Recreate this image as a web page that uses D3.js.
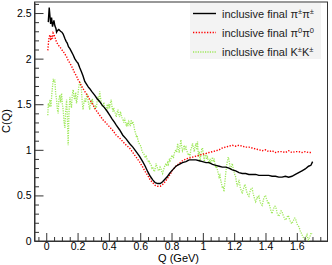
<!DOCTYPE html>
<html><head><meta charset="utf-8">
<script src="https://cdn.jsdelivr.net/npm/d3@7"></script>
<style>body{margin:0;background:#fff}svg{display:block;font-family:"Liberation Sans",Arial,sans-serif}</style>
</head><body><svg id="c" width="332" height="265"></svg>
<script>
const xTicks = [0,0.2,0.4,0.6,0.8,1,1.2,1.4,1.6];
const xTickLabels = ["0","0.2","0.4","0.6","0.8","1","1.2","1.4","1.6"];
const yTicks = [0,0.5,1,1.5,2,2.5];
const yTickLabels = ["0","0.5","1","1.5","2","2.5"];
// legend labels as [text, superscript] pieces
const seriesNames = [
  [["inclusive final \u03c0",""],["\u00b1","sup"],["\u03c0",""],["\u00b1","sup"]],
  [["inclusive final \u03c0",""],["0","sup"],["\u03c0",""],["0","sup"]],
  [["inclusive final K",""],["\u00b1","sup"],["K",""],["\u00b1","sup"]]
];

const qBlack = [0.013,0.019,0.028,0.034,0.040,0.049,0.055,0.062,0.066,0.072,0.080,0.091,0.100,0.108,0.119,0.127,0.134,0.142,0.151,0.160,0.172,0.182,0.193,0.203,0.214,0.224,0.235,0.246,0.257,0.268,0.278,0.290,0.309,0.325,0.341,0.357,0.373,0.390,0.405,0.420,0.436,0.447,0.468,0.489,0.510,0.532,0.553,0.574,0.595,0.616,0.632,0.648,0.664,0.680,0.696,0.712,0.728,0.743,0.759,0.775,0.791,0.807,0.828,0.849,0.870,0.892,0.913,0.934,0.956,0.977,0.998,1.020,1.040,1.062,1.083,1.104,1.125,1.146,1.167,1.188,1.210,1.231,1.252,1.273,1.294,1.315,1.337,1.358,1.379,1.400,1.421,1.442,1.464,1.485,1.506,1.527,1.548,1.569,1.591,1.612,1.633,1.654,1.675,1.690,1.701];
const cBlack = [2.40,2.56,2.38,2.45,2.35,2.42,2.36,2.33,2.29,2.31,2.32,2.30,2.29,2.27,2.22,2.19,2.17,2.13,2.11,2.08,2.04,2.00,1.97,1.95,1.90,1.86,1.81,1.75,1.72,1.69,1.67,1.64,1.60,1.56,1.53,1.49,1.46,1.42,1.38,1.34,1.30,1.27,1.22,1.16,1.12,1.07,1.03,0.98,0.93,0.87,0.82,0.76,0.71,0.67,0.64,0.63,0.63,0.65,0.68,0.71,0.75,0.78,0.82,0.84,0.86,0.87,0.89,0.89,0.89,0.88,0.87,0.86,0.86,0.84,0.83,0.82,0.81,0.81,0.80,0.78,0.77,0.75,0.74,0.74,0.73,0.73,0.73,0.72,0.72,0.72,0.72,0.71,0.71,0.70,0.70,0.71,0.70,0.71,0.73,0.75,0.77,0.79,0.82,0.83,0.87];

const qRed = [0.010,0.015,0.019,0.024,0.029,0.034,0.040,0.044,0.050,0.055,0.060,0.066,0.076,0.087,0.098,0.108,0.119,0.130,0.140,0.151,0.161,0.172,0.182,0.193,0.203,0.214,0.225,0.235,0.246,0.257,0.268,0.278,0.289,0.299,0.320,0.341,0.362,0.384,0.405,0.426,0.447,0.468,0.489,0.511,0.532,0.553,0.574,0.595,0.616,0.632,0.648,0.664,0.680,0.696,0.712,0.728,0.743,0.759,0.775,0.791,0.807,0.828,0.849,0.870,0.892,0.913,0.934,0.956,0.977,0.998,1.020,1.040,1.062,1.083,1.104,1.125,1.146,1.167,1.188,1.210,1.231,1.252,1.273,1.294,1.315,1.337,1.358,1.379,1.400,1.421,1.442,1.464,1.485,1.506,1.527,1.548,1.569,1.591,1.612,1.633,1.654,1.675,1.697];
const cRed = [2.09,2.19,2.24,2.26,2.20,2.25,2.22,2.28,2.26,2.24,2.21,2.18,2.15,2.13,2.10,2.08,2.05,2.02,1.98,1.95,1.92,1.88,1.84,1.81,1.77,1.74,1.70,1.67,1.64,1.61,1.58,1.55,1.52,1.49,1.43,1.38,1.33,1.29,1.25,1.21,1.16,1.13,1.09,1.05,1.02,0.97,0.92,0.87,0.81,0.76,0.72,0.67,0.64,0.61,0.60,0.60,0.62,0.65,0.69,0.73,0.78,0.82,0.85,0.88,0.90,0.91,0.92,0.93,0.94,0.95,0.96,0.97,0.98,0.99,1.00,1.02,1.03,1.04,1.05,1.04,1.05,1.04,1.03,1.03,1.02,1.01,1.00,0.99,1.00,0.98,0.99,0.97,0.98,0.98,0.97,0.99,0.97,0.98,0.98,0.97,0.98,0.97,0.97];

const qGreen = [0.010,0.013,0.019,0.024,0.030,0.035,0.040,0.045,0.050,0.055,0.060,0.066,0.071,0.076,0.081,0.087,0.092,0.098,0.103,0.108,0.114,0.119,0.124,0.130,0.135,0.140,0.145,0.151,0.156,0.161,0.166,0.172,0.177,0.182,0.188,0.193,0.198,0.203,0.209,0.214,0.219,0.224,0.230,0.235,0.240,0.246,0.251,0.257,0.262,0.268,0.273,0.278,0.283,0.289,0.294,0.299,0.304,0.310,0.315,0.320,0.326,0.331,0.336,0.341,0.346,0.352,0.357,0.362,0.368,0.373,0.378,0.384,0.389,0.394,0.400,0.405,0.410,0.415,0.420,0.426,0.431,0.436,0.442,0.447,0.452,0.458,0.463,0.468,0.474,0.479,0.484,0.489,0.495,0.500,0.506,0.511,0.516,0.521,0.527,0.532,0.537,0.543,0.548,0.553,0.559,0.564,0.569,0.575,0.580,0.585,0.590,0.596,0.601,0.606,0.611,0.617,0.622,0.627,0.632,0.638,0.643,0.648,0.654,0.659,0.664,0.670,0.675,0.680,0.685,0.691,0.696,0.701,0.706,0.712,0.717,0.722,0.727,0.733,0.738,0.743,0.749,0.754,0.759,0.765,0.770,0.775,0.780,0.786,0.791,0.796,0.801,0.807,0.812,0.817,0.822,0.828,0.833,0.839,0.844,0.849,0.854,0.860,0.865,0.870,0.876,0.881,0.886,0.892,0.897,0.902,0.908,0.913,0.918,0.923,0.929,0.934,0.940,0.945,0.950,0.956,0.961,0.966,0.972,0.977,0.982,0.988,0.993,0.998,1.004,1.009,1.014,1.020,1.025,1.030,1.035,1.040,1.046,1.051,1.056,1.062,1.067,1.072,1.078,1.083,1.088,1.093,1.099,1.104,1.109,1.114,1.120,1.125,1.130,1.135,1.141,1.146,1.151,1.156,1.162,1.167,1.172,1.177,1.183,1.188,1.193,1.199,1.204,1.210,1.215,1.220,1.225,1.231,1.236,1.241,1.247,1.252,1.257,1.263,1.268,1.273,1.278,1.284,1.289,1.294,1.299,1.305,1.310,1.315,1.320,1.326,1.331,1.337,1.342,1.347,1.352,1.358,1.363,1.368,1.374,1.379,1.384,1.389,1.395,1.400,1.405,1.411,1.416,1.421,1.426,1.432,1.437,1.442,1.447,1.453,1.458,1.464,1.469,1.474,1.479,1.485,1.490,1.495,1.500,1.506,1.511,1.516,1.521,1.527,1.532,1.537,1.543,1.548,1.553,1.558,1.564,1.569,1.574,1.580,1.585,1.591,1.596,1.601,1.606,1.612,1.617,1.622,1.628,1.633,1.638,1.644,1.649,1.654,1.660,1.665,1.670,1.675,1.681,1.686,1.691,1.697];
const cGreen = [1.38,1.51,1.47,1.55,1.47,1.60,1.69,1.78,1.74,1.77,1.62,1.55,1.44,1.40,1.55,1.60,1.52,1.62,1.50,1.44,1.30,1.24,1.42,1.55,1.35,1.05,1.40,1.58,1.51,1.46,1.60,1.66,1.58,1.55,1.63,1.51,1.56,1.62,1.70,1.75,1.72,1.67,1.52,1.44,1.51,1.56,1.52,1.58,1.62,1.53,1.48,1.44,1.55,1.50,1.56,1.51,1.47,1.44,1.49,1.46,1.55,1.58,1.52,1.64,1.58,1.51,1.48,1.47,1.52,1.46,1.44,1.44,1.50,1.46,1.49,1.47,1.52,1.55,1.47,1.42,1.46,1.41,1.40,1.36,1.41,1.44,1.39,1.36,1.42,1.38,1.35,1.33,1.30,1.35,1.29,1.27,1.30,1.26,1.31,1.29,1.26,1.33,1.28,1.31,1.27,1.22,1.19,1.15,1.16,1.11,1.08,1.06,1.05,1.03,0.99,0.97,0.96,0.94,0.92,0.93,0.90,0.89,0.86,0.87,0.84,0.83,0.80,0.81,0.78,0.76,0.80,0.85,0.82,0.79,0.77,0.78,0.81,0.79,0.76,0.74,0.78,0.81,0.83,0.85,0.82,0.86,0.84,0.89,0.87,0.90,0.93,0.94,0.91,0.96,0.98,1.00,0.97,1.07,1.01,0.97,1.04,1.11,1.03,0.99,1.02,1.05,1.01,1.03,0.99,0.97,0.94,0.96,0.92,1.00,1.03,1.07,1.02,0.98,1.03,1.07,1.00,1.09,0.92,0.98,0.87,0.95,1.01,1.02,0.94,0.87,0.93,0.96,0.90,0.92,0.88,0.85,0.90,0.85,0.88,0.92,0.87,0.89,0.84,0.80,0.82,0.78,0.74,0.70,0.72,0.67,0.62,0.58,0.60,0.54,0.65,0.74,0.82,0.87,0.92,0.89,0.83,0.78,0.82,0.85,0.80,0.76,0.73,0.70,0.64,0.60,0.63,0.67,0.62,0.57,0.55,0.52,0.56,0.59,0.62,0.60,0.55,0.52,0.50,0.49,0.53,0.56,0.58,0.58,0.53,0.49,0.46,0.43,0.45,0.48,0.47,0.49,0.45,0.42,0.40,0.39,0.43,0.47,0.49,0.50,0.47,0.44,0.42,0.43,0.39,0.35,0.32,0.30,0.33,0.36,0.38,0.38,0.35,0.31,0.29,0.27,0.29,0.31,0.33,0.32,0.29,0.27,0.25,0.23,0.24,0.26,0.28,0.27,0.24,0.22,0.20,0.19,0.21,0.23,0.25,0.25,0.22,0.19,0.17,0.16,0.14,0.11,0.09,0.07,0.05,0.03,0.02,0.01,0.05,0.07,0.03,0.01,0.04,0.06,0.09,0.08];

const svg = d3.select("#c");
const L = 34.5, R = 327.5, T = 2, B = 241;
const x = d3.scaleLinear().domain([-0.075, 1.796]).range([L, R]);
const y = d3.scaleLinear().domain([0, 2.621]).range([B, T]);
const axisCol = "#333";

svg.append("rect").attr("x", L).attr("y", T).attr("width", R - L).attr("height", B - T)
  .attr("fill", "none").attr("stroke", axisCol).attr("stroke-width", 1);

svg.append("clipPath").attr("id", "clip").append("rect")
  .attr("x", L).attr("y", T).attr("width", R - L).attr("height", B - T);

// legend background
svg.append("rect").attr("x", 190).attr("y", 3).attr("width", 131).attr("height", 56).attr("fill", "#f3f3f3");

const g = svg.append("g").attr("clip-path", "url(#clip)");
const line = d3.line().x(d => x(d[0])).y(d => y(d[1]));
const zip = (a, b) => a.map((v, i) => [v, b[i]]);

g.append("path").datum(zip(qGreen, cGreen)).attr("d", line).attr("fill", "none")
  .attr("stroke", "#9ee85a").attr("stroke-width", 1.3).attr("stroke-dasharray", "1.2,1.2");
g.append("path").datum(zip(qRed, cRed)).attr("d", line).attr("fill", "none")
  .attr("stroke", "#f00").attr("stroke-width", 1.4).attr("stroke-dasharray", "1.3,1.5");
g.append("path").datum(zip(qBlack, cBlack)).attr("d", line).attr("fill", "none")
  .attr("stroke", "#000").attr("stroke-width", 1.4);

// x ticks (inward)
const xMinor = d3.range(-0.05, 1.8, 0.05).filter(v => Math.abs(v / 0.2 - Math.round(v / 0.2)) > 1e-6);
const gx = svg.append("g").attr("transform", `translate(0,${B})`)
  .call(d3.axisBottom(x).tickValues(xTicks).tickSize(-8).tickSizeOuter(0).tickFormat((d, i) => xTickLabels[i]));
gx.select(".domain").attr("stroke", axisCol);
gx.selectAll(".tick line").attr("stroke", axisCol);
gx.selectAll("text").attr("font-size", 10.5).attr("fill", "#000").attr("dy", "0.32em").attr("y", 6);
const gxm = svg.append("g").attr("transform", `translate(0,${B})`)
  .call(d3.axisBottom(x).tickValues(xMinor).tickSize(-4).tickSizeOuter(0).tickFormat(""));
gxm.select(".domain").remove();
gxm.selectAll(".tick line").attr("stroke", axisCol);

// y ticks (inward)
const yMinor = d3.range(0.1, 2.61, 0.1).filter(v => Math.abs(v / 0.5 - Math.round(v / 0.5)) > 1e-6);
const gy = svg.append("g").attr("transform", `translate(${L},0)`)
  .call(d3.axisLeft(y).tickValues(yTicks).tickSize(-9).tickSizeOuter(0).tickFormat((d, i) => yTickLabels[i]));
gy.select(".domain").attr("stroke", axisCol);
gy.selectAll(".tick line").attr("stroke", axisCol);
gy.selectAll("text").attr("font-size", 10.5).attr("fill", "#000").attr("x", -3);
const gym = svg.append("g").attr("transform", `translate(${L},0)`)
  .call(d3.axisLeft(y).tickValues(yMinor).tickSize(-4.5).tickSizeOuter(0).tickFormat(""));
gym.select(".domain").remove();
gym.selectAll(".tick line").attr("stroke", axisCol);

// axis titles
svg.append("text").attr("x", 199).attr("y", 262).attr("text-anchor", "end")
  .attr("font-size", 11).text("Q (GeV)");
svg.append("text").attr("transform", "translate(10,121) rotate(-90)").attr("text-anchor", "middle")
  .attr("font-size", 11).text("C(Q)");

// legend
const legStyles = [
  {stroke: "#000", dash: null},
  {stroke: "#f00", dash: "1.3,1.5"},
  {stroke: "#9ee85a", dash: "1.2,1.2"}
];
const legY = [13.5, 32.5, 52];
seriesNames.forEach((parts, i) => {
  svg.append("line").attr("x1", 193).attr("x2", 216).attr("y1", legY[i]).attr("y2", legY[i])
    .attr("stroke", legStyles[i].stroke).attr("stroke-width", 1.4)
    .attr("stroke-dasharray", legStyles[i].dash);
  const t = svg.append("text").attr("x", 222).attr("y", legY[i] + 4)
    .attr("font-size", 11).attr("fill", "#222");
  parts.forEach(([s, kind]) => {
    if (kind === "sup") {
      t.append("tspan").attr("font-size", 7.5).attr("dy", -4).text(s);
    } else {
      const ts = t.append("tspan").text(s);
      if (t.selectAll("tspan").size() > 1) ts.attr("dy", 4);
    }
  });
});
</script></body></html>
